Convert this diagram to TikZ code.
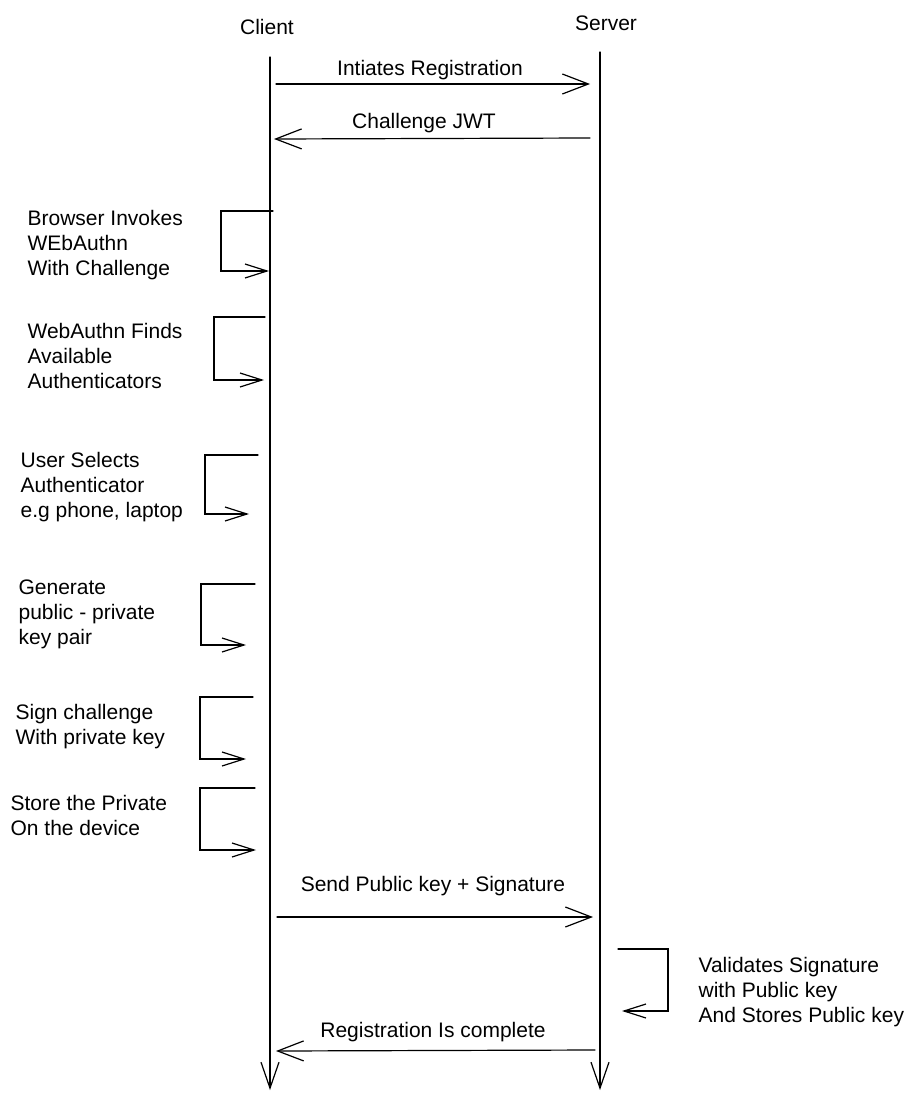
\documentclass[tikz,border=0pt]{standalone}
\usepackage{fontspec}
\setmainfont{Liberation Sans}
\usetikzlibrary{arrows.meta}

\begin{document}
\begin{tikzpicture}[x=0.5pt,y=-0.5pt,>={Straight Barb[length=11pt,width=7pt]},
  font=\fontsize{10.5}{12.5}\selectfont,line cap=round,line width=0.6pt,
  note/.style={anchor=west,align=left,inner sep=0pt},
  msg/.style={inner sep=0pt},
  call/.style={-{Straight Barb[length=13pt,width=10pt]}},
  lifeline/.style={-{Straight Barb[length=13pt,width=9pt]}}]
\useasboundingbox (0,0) rectangle (922,1103);
% lifelines
\node (client) at (267,27) {Client};
\node (server) at (606,23) {Server};
\coordinate (ctop) at (270,57);
\coordinate (cbot) at (270,1090);
\coordinate (stop) at (600,52);
\coordinate (sbot) at (600,1090);
\draw[lifeline] (ctop) -- (cbot);
\draw[lifeline] (stop) -- (sbot);
% messages
\coordinate (m1a) at (276,84);  \coordinate (m1b) at (590,84);
\coordinate (m2a) at (590,138); \coordinate (m2b) at (274,139);
\coordinate (m3a) at (277,917); \coordinate (m3b) at (593,917);
\coordinate (m4a) at (595,1050); \coordinate (m4b) at (276,1051);
\draw[call] (m1a) -- (m1b);
\draw[call] (m2a) -- (m2b);
\draw[call] (m3a) -- (m3b);
\draw[call] (m4a) -- (m4b);
\node[msg] (lbl1) at (430,70) {Intiates Registration};
\node[msg] (lbl2) at (424,123) {Challenge JWT};
\node[msg] (lbl3) at (433,886) {Send Public key + Signature};
\node[msg] (lbl4) at (433,1032) {Registration Is complete};
% client self calls
\coordinate (b1s) at (273,211); \coordinate (b1e) at (269,271);
\coordinate (b2s) at (265,317); \coordinate (b2e) at (264,380);
\coordinate (b3s) at (258,455); \coordinate (b3e) at (249,514);
\coordinate (b4s) at (255,584); \coordinate (b4e) at (246,645);
\coordinate (b5s) at (253,697); \coordinate (b5e) at (246,759);
\coordinate (b6s) at (255,788); \coordinate (b6e) at (256,850);
\draw[->] (b1s) -- (221,211) |- (b1e);
\draw[->] (b2s) -- (214,317) |- (b2e);
\draw[->] (b3s) -- (205,455) |- (b3e);
\draw[->] (b4s) -- (201,584) |- (b4e);
\draw[->] (b5s) -- (200,697) |- (b5e);
\draw[->] (b6s) -- (200,788) |- (b6e);
\node[note] (n1) at (27,245) {Browser Invokes\\WEbAuthn\\With Challenge};
\node[note] (n2) at (27,356) {WebAuthn Finds\\Available\\Authenticators};
\node[note] (n3) at (20,487) {User Selects\\Authenticator\\e.g phone, laptop};
\node[note] (n4) at (18,614) {Generate\\public - private\\key pair};
\node[note] (n5) at (15,727) {Sign challenge\\With private key};
\node[note] (n6) at (10,815) {Store the Private\\On the device};
% server self call
\coordinate (s1s) at (618,949); \coordinate (s1e) at (622,1011);
\draw[->] (s1s) -- (668,949) |- (s1e);
\node[note] (n7) at (698,992) {Validates Signature\\with Public key\\And Stores Public key};
\end{tikzpicture}
\end{document}
